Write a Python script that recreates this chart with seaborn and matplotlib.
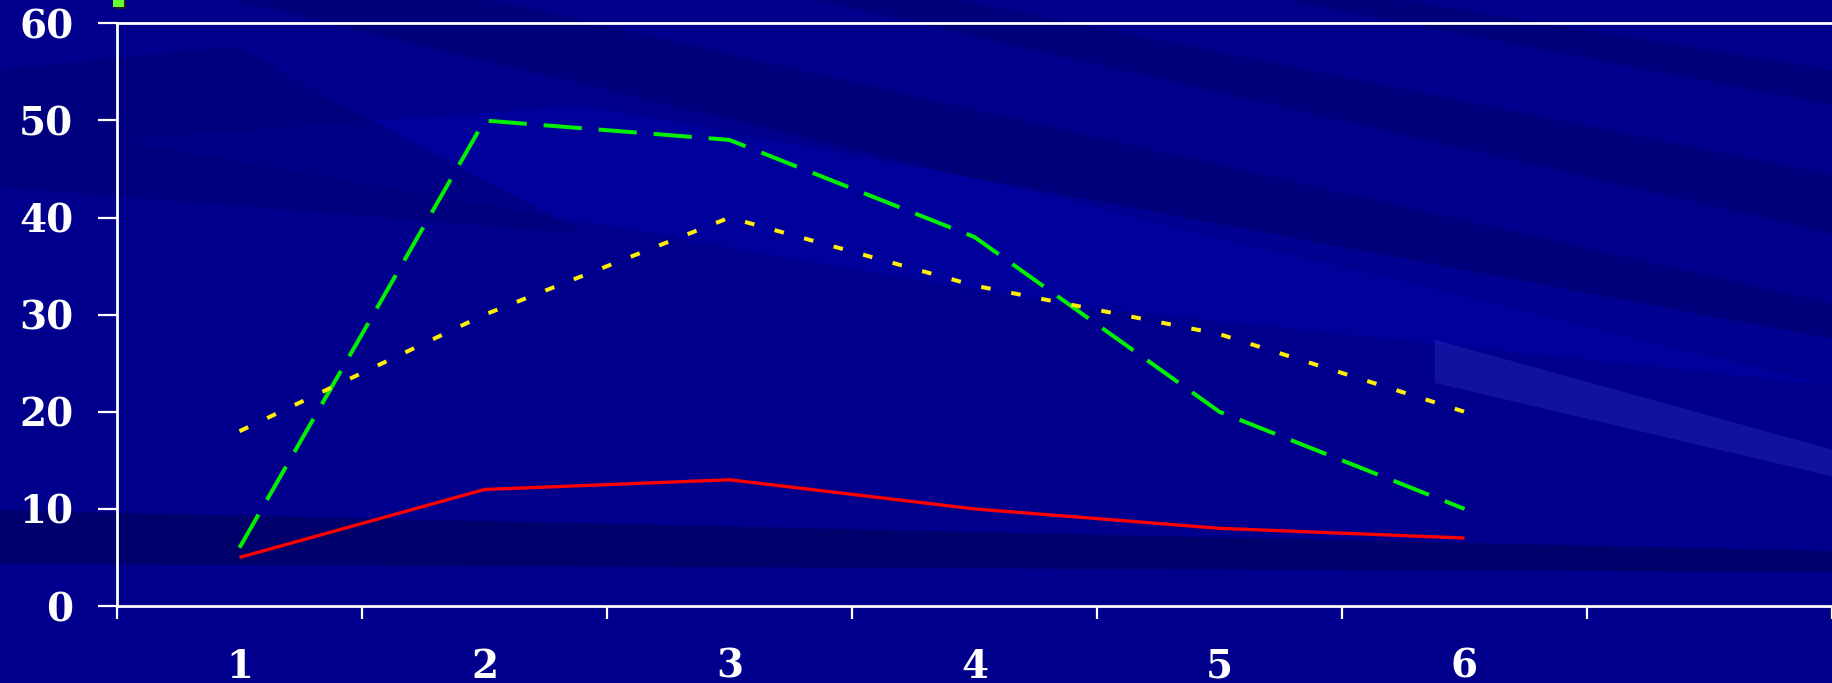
import matplotlib
matplotlib.use("Agg")
import matplotlib.pyplot as plt
import seaborn as sns
import pandas as pd
from matplotlib.patches import Polygon, Rectangle

# ---- data ----
categories = [1, 2, 3, 4, 5, 6]
category_labels = ["1", "2", "3", "4", "5", "6"]
series_red = [5, 12, 13, 10, 8, 7]
series_green = [6, 50, 48, 38, 20, 10]
series_yellow = [18, 30, 40, 33, 28, 20]
series_names = ["Series 1", "Series 2", "Series 3"]
y_ticks = [0, 10, 20, 30, 40, 50, 60]

df = pd.DataFrame({
    "x": categories * 3,
    "y": series_red + series_green + series_yellow,
    "series": [series_names[0]] * 6 + [series_names[1]] * 6 + [series_names[2]] * 6,
})

W, H = 1832, 683
BASE = "#00008C"

sns.set_style("ticks")
plt.rcParams["font.family"] = ["DejaVu Serif"]

fig = plt.figure(figsize=(W / 100, H / 100), dpi=100)
fig.patch.set_facecolor(BASE)


def fpoly(pts, color, alpha):
    """Polygon in a 1568x585 reference frame, mapped to figure fractions."""
    xy = [(x / 1568, 1 - y / 585) for x, y in pts]
    p = Polygon(xy, closed=True, transform=fig.transFigure, facecolor=color,
                edgecolor="none", alpha=alpha, zorder=-5)
    fig.add_artist(p)


# slide background streaks
fpoly([(0, 437), (1568, 472), (1568, 490), (0, 483)], "#000060", 0.7)
fpoly([(200, 0), (420, 0), (1568, 260), (1568, 330)], "#00006A", 0.5)
fpoly([(700, 0), (820, 0), (1568, 150), (1568, 200)], "#00006A", 0.5)
fpoly([(1100, 0), (1200, 0), (1568, 60), (1568, 90)], "#00006A", 0.5)
fpoly([(100, 120), (500, 90), (1568, 290), (1568, 330), (900, 260)], "#0000B4", 0.4)
fpoly([(0, 60), (200, 40), (500, 200), (0, 160)], "#000070", 0.45)
fpoly([(1228, 291), (1568, 385), (1568, 408), (1228, 328)], "#3535C8", 0.35)

# legend marker fragment at the top edge
fig.add_artist(Rectangle((115 / W, 1 - 9 / H), 11 / W, 9 / H, transform=fig.transFigure,
                         facecolor="#202020", edgecolor="none", zorder=5))
fig.add_artist(Rectangle((113 / W, 1 - 7 / H), 11 / W, 8 / H, transform=fig.transFigure,
                         facecolor="#66FF33", edgecolor="none", zorder=6))

ax = fig.add_axes([117 / W, 1 - 606 / H, 1 - 117 / W, (606 - 23.4) / H])
ax.patch.set_alpha(0)

sns.lineplot(
    data=df, x="x", y="y", hue="series", style="series",
    palette={series_names[0]: "#FF0000", series_names[1]: "#00F000", series_names[2]: "#FFEE00"},
    dashes={series_names[0]: "", series_names[1]: (9.5, 4.2), series_names[2]: (2.4, 5.2)},
    linewidth=2.9, legend=False, ax=ax,
)
for ln in ax.lines:
    ln.set_dash_capstyle("butt")
    ln.set_solid_capstyle("butt")
ax.lines[0].set_linewidth(2.4)

ax.set_xlim(0.5, 0.5 + (W - 117) / 245.7)
ax.set_ylim(0, 60)

# category boundaries carry the tick marks, centres carry the labels
ax.set_xticks([0.5 + i for i in range(8)])
ax.set_xticklabels([])
ax.set_xticks(categories, minor=True)
ax.set_xticklabels(category_labels, minor=True)
ax.set_yticks(y_ticks)
ax.set_yticklabels([str(v) for v in y_ticks])
ax.yaxis.set_minor_locator(matplotlib.ticker.NullLocator())

ax.tick_params(axis="x", which="major", bottom=True, length=9, width=1.6,
               color="white", direction="out")
ax.tick_params(axis="x", which="minor", bottom=True, length=0, pad=30,
               labelsize=28, labelcolor="white")
ax.tick_params(axis="y", which="major", left=True, length=13.5, width=1.6, color="white",
               direction="out", pad=18, labelsize=28, labelcolor="white")
for lbl in ax.get_xticklabels(minor=True) + ax.get_yticklabels():
    lbl.set_fontweight("bold")

ax.set_xlabel("")
ax.set_ylabel("")
for side in ["left", "bottom", "top"]:
    ax.spines[side].set_visible(True)
    ax.spines[side].set_color("white")
    ax.spines[side].set_linewidth(2)
ax.spines["right"].set_visible(False)
ax.grid(False)

fig.savefig("out.png", dpi=100, facecolor=fig.get_facecolor())
